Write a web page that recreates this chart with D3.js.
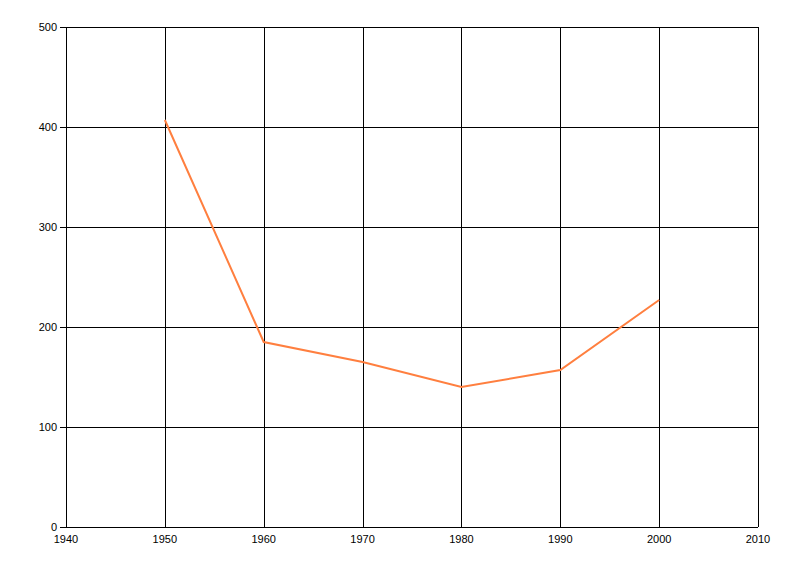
<!DOCTYPE html>
<html><head><meta charset="utf-8">
<script src="https://cdn.jsdelivr.net/npm/d3@7"></script>
<style>body{margin:0;background:#fff}svg{display:block}</style>
</head><body><svg id="c" width="800" height="576"></svg>
<script>
const years = [1950, 1960, 1970, 1980, 1990, 2000];
const values = [407, 185, 165, 140, 157, 227];
const xTicks = [1940, 1950, 1960, 1970, 1980, 1990, 2000, 2010];
const yTicks = [0, 100, 200, 300, 400, 500];

const svg = d3.select("#c");
const L = 66, R = 758, T = 27, B = 527;
const x = d3.scaleLinear().domain([1940, 2010]).range([L, R]);
const y = d3.scaleLinear().domain([0, 500]).range([B, T]);
const font = "'Liberation Sans', Arial, sans-serif";

// grid
svg.append("g").selectAll("line").data(xTicks).join("line")
  .attr("x1", d => Math.round(x(d)) + 0.5).attr("x2", d => Math.round(x(d)) + 0.5)
  .attr("y1", T).attr("y2", B).attr("stroke", "#000").attr("stroke-width", 1);
svg.append("g").selectAll("line").data(yTicks).join("line")
  .attr("y1", d => Math.round(y(d)) + 0.5).attr("y2", d => Math.round(y(d)) + 0.5)
  .attr("x1", L - 6).attr("x2", R).attr("stroke", "#000").attr("stroke-width", 1);

// y labels
svg.append("g").selectAll("text").data(yTicks).join("text")
  .attr("x", L - 9).attr("y", d => y(d) + 4)
  .attr("text-anchor", "end").attr("font-family", font).attr("font-size", 11)
  .attr("fill", "#000").text(d => d);
// x labels
svg.append("g").selectAll("text").data(xTicks).join("text")
  .attr("x", d => x(d)).attr("y", B + 16)
  .attr("text-anchor", "middle").attr("font-family", font).attr("font-size", 11)
  .attr("fill", "#000").text(d => d);

// line
const line = d3.line().x((d, i) => x(years[i])).y(d => y(d));
svg.append("path").datum(values).attr("d", line)
  .attr("fill", "none").attr("stroke", "#FF7F3F").attr("stroke-width", 2);
</script></body></html>
